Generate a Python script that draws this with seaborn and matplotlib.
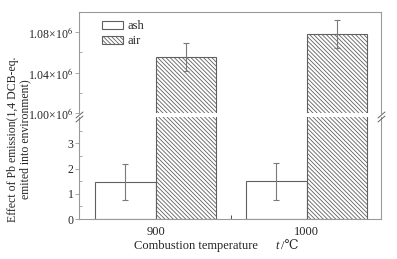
import numpy as np
import pandas as pd
import matplotlib
matplotlib.use('Agg')
import matplotlib.pyplot as plt
import seaborn as sns
from matplotlib.patches import Patch
from matplotlib.lines import Line2D
from matplotlib.ticker import FuncFormatter, FixedLocator

# veriler
temps = ['900', '1000']
sources = ['ash', 'air']
ash_vals = [1.46, 1.49]
ash_err = [0.72, 0.73]
air_vals = [1.0553e6, 1.0780e6]
air_err = [0.014e6, 0.014e6]

sns.set_theme(style='white')
plt.rcParams['font.family'] = ['Liberation Serif', 'DejaVu Serif']
plt.rcParams['mathtext.fontset'] = 'stix'
plt.rcParams['font.size'] = 9
plt.rcParams['hatch.linewidth'] = 0.6

HATCH = '\\' * 8

df = pd.DataFrame({
    'temp': temps * 2,
    'source': ['ash'] * 2 + ['air'] * 2,
    'value': ash_vals + air_vals,
})

W, H = 397, 259
fig = plt.figure(figsize=(W / 100, H / 100), dpi=100)
left, right = 79 / W, 381 / W
ax_top = fig.add_axes([left, 1 - 113 / H, right - left, (113 - 12) / H])
ax_bot = fig.add_axes([left, 1 - 219 / H, right - left, (219 - 117) / H])

spine_col = '#9a9a9a'
edge_col = '#606060'
err_col = '#7a7a7a'

for ax in (ax_top, ax_bot):
    sns.barplot(data=df, x='temp', y='value', hue='source', order=temps,
                hue_order=sources, width=0.8, errorbar=None, ax=ax, legend=False)
    for i, cont in enumerate(ax.containers):
        for p in cont.patches:
            p.set_facecolor('white')
            p.set_edgecolor(edge_col)
            p.set_linewidth(0.8)
            if sources[i] == 'air':
                p.set_hatch(HATCH)
    ax.set_xlim(-0.507, 1.493)
    ax.set_xlabel('')
    ax.set_ylabel('')
    for s in ax.spines.values():
        s.set_color(spine_col)
        s.set_linewidth(0.8)
    ax.tick_params(axis='y', which='major', direction='out', length=3, width=0.6,
                   color=spine_col, labelsize=8.5, pad=1, left=True)
    ax.tick_params(axis='y', which='minor', direction='in', length=2, width=0.6,
                   color=spine_col, left=True)

# hata cubuklari
ash_x = [p.get_x() + p.get_width() / 2 for p in ax_bot.containers[0].patches]
air_x = [p.get_x() + p.get_width() / 2 for p in ax_top.containers[1].patches]
ax_bot.errorbar(ash_x, ash_vals, yerr=ash_err, fmt='none', ecolor=err_col,
                elinewidth=0.8, capsize=2, capthick=0.8)
ax_top.errorbar(air_x, air_vals, yerr=air_err, fmt='none', ecolor=err_col,
                elinewidth=0.8, capsize=2, capthick=0.8)

# ust eksen
ax_top.set_ylim(1.0e6, 1.1e6)
ax_top.yaxis.set_major_locator(FixedLocator([1.00e6, 1.04e6, 1.08e6]))
ax_top.yaxis.set_minor_locator(FixedLocator([1.02e6, 1.06e6]))
ax_top.yaxis.set_major_formatter(FuncFormatter(lambda v, pos: f'{v / 1e6:.2f}×10$^{{6}}$'))
ax_top.spines['bottom'].set_visible(False)
ax_top.set_xticks([])

# alt eksen
ax_bot.set_ylim(0, 4.05)
ax_bot.yaxis.set_major_locator(FixedLocator([0, 1, 2, 3]))
ax_bot.yaxis.set_minor_locator(FixedLocator([0.5, 1.5, 2.5, 3.5]))
ax_bot.spines['top'].set_visible(False)
ax_bot.set_xticks([0, 1])
ax_bot.set_xticklabels(temps)
ax_bot.xaxis.set_minor_locator(FixedLocator([0.5]))
ax_bot.tick_params(axis='x', which='both', direction='in', length=3, width=0.6,
                   color='#333333', labelsize=9, pad=5, bottom=True)

# kirik isaretleri
for x0 in (76, 378):
    for dy in (0, 4):
        fig.add_artist(Line2D([x0 / W, (x0 + 7) / W],
                              [1 - (118 + dy) / H, 1 - (112 + dy) / H],
                              color='#666666', lw=0.7))

ax_top.legend(handles=[Patch(facecolor='white', edgecolor=edge_col, lw=0.8, label='ash'),
                       Patch(facecolor='white', edgecolor=edge_col, lw=0.8,
                             hatch=HATCH, label='air')],
              loc='upper left', bbox_to_anchor=(0.06, 0.97), frameon=False,
              handlelength=1.7, handleheight=0.6, handletextpad=0.3,
              labelspacing=0.25, borderaxespad=0, fontsize=9)

fig.text(0.048, 1 - 139 / H, 'Effect of Pb emission(1,4 DCB-eq.\nemited into environment)',
         rotation=90, ha='center', va='center', fontsize=8.5, linespacing=1.1)

# x etiketi: t italik, ℃ DejaVu'dan gelsin
fig.text(134 / W, 1 - 246 / H, 'Combustion temperature', ha='left', va='center', fontsize=9)
fig.text(275 / W, 1 - 246 / H, 't', ha='left', va='center', fontsize=9, style='italic')
fig.text(281 / W, 1 - 246 / H, '/℃', ha='left', va='center', fontsize=9)

fig.savefig('out.png', dpi=100)
